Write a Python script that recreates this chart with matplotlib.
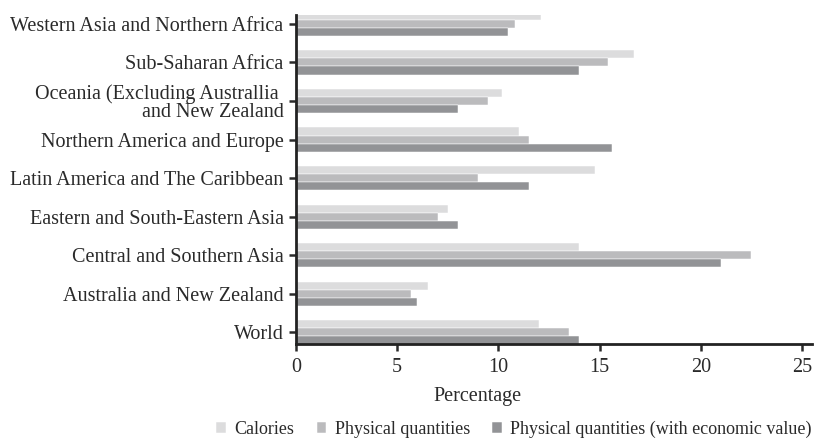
import matplotlib.pyplot as plt
import numpy as np

regions = ["World",
           "Australia and New Zealand",
           "Central and Southern Asia",
           "Eastern and South-Eastern Asia",
           "Latin America and The Caribbean",
           "Northern America and Europe",
           "Oceania (Excluding Australlia \nand New Zealand",
           "Sub-Saharan Africa",
           "Western Asia and Northern Africa"]

calories = [12.0, 6.5, 14.0, 7.5, 14.8, 11.0, 10.2, 16.7, 12.1]
physical = [13.5, 5.7, 22.5, 7.0, 9.0, 11.5, 9.5, 15.4, 10.8]
economic = [14.0, 6.0, 21.0, 8.0, 11.5, 15.6, 8.0, 14.0, 10.5]

series_names = ["Calories", "Physical quantities",
                "Physical quantities (with economic value)"]
colors = ["#dcdcdd", "#bbbbbd", "#929396"]

plt.rcParams['font.family'] = ['Liberation Serif', 'DejaVu Serif']
fs = 14.5
txt = '#2a2a2a'

fig = plt.figure(figsize=(8.16, 4.46), dpi=100)
ax = fig.add_axes([296 / 816, 102 / 446, (812 - 296) / 816, (344 - 15) / 446])

y = np.arange(len(regions))
h = 0.21
for off, vals, c, name in zip([h, 0, -h], [calories, physical, economic],
                              colors, series_names):
    ax.barh(y + off, vals, height=h, color=c, edgecolor='white',
            linewidth=0.35, label=name)

ax.set_yticks(y)
ax.set_yticklabels(regions, fontsize=fs, color=txt, linespacing=0.95)
ax.set_xlim(0, 25.5)
ax.set_xticks([0, 5, 10, 15, 20, 25])
ax.set_ylim(-0.3, 8.23)
ax.tick_params(axis='x', labelsize=fs, colors=txt, length=5, width=1.8, pad=5)
ax.tick_params(axis='y', length=5, width=1.8, pad=4, colors=txt)
for s in ['top', 'right']:
    ax.spines[s].set_visible(False)
for s in ['left', 'bottom']:
    ax.spines[s].set_linewidth(2)
    ax.spines[s].set_color('#222222')
ax.set_xlabel("Percentage", fontsize=fs, color=txt)
ax.xaxis.set_label_coords((477 - 296) / 516, -(397 - 344) / 329, transform=ax.transAxes)
ax.xaxis.label.set_va('center')

fig.legend(loc='center left', bbox_to_anchor=(216 / 816, 1 - 429 / 446), ncol=3,
           frameon=False, fontsize=13, handlelength=0.55, handleheight=0.55,
           handletextpad=0.45, columnspacing=1.25, labelcolor=txt,
           borderpad=0, borderaxespad=0)

fig.savefig("out.png", dpi=100)
